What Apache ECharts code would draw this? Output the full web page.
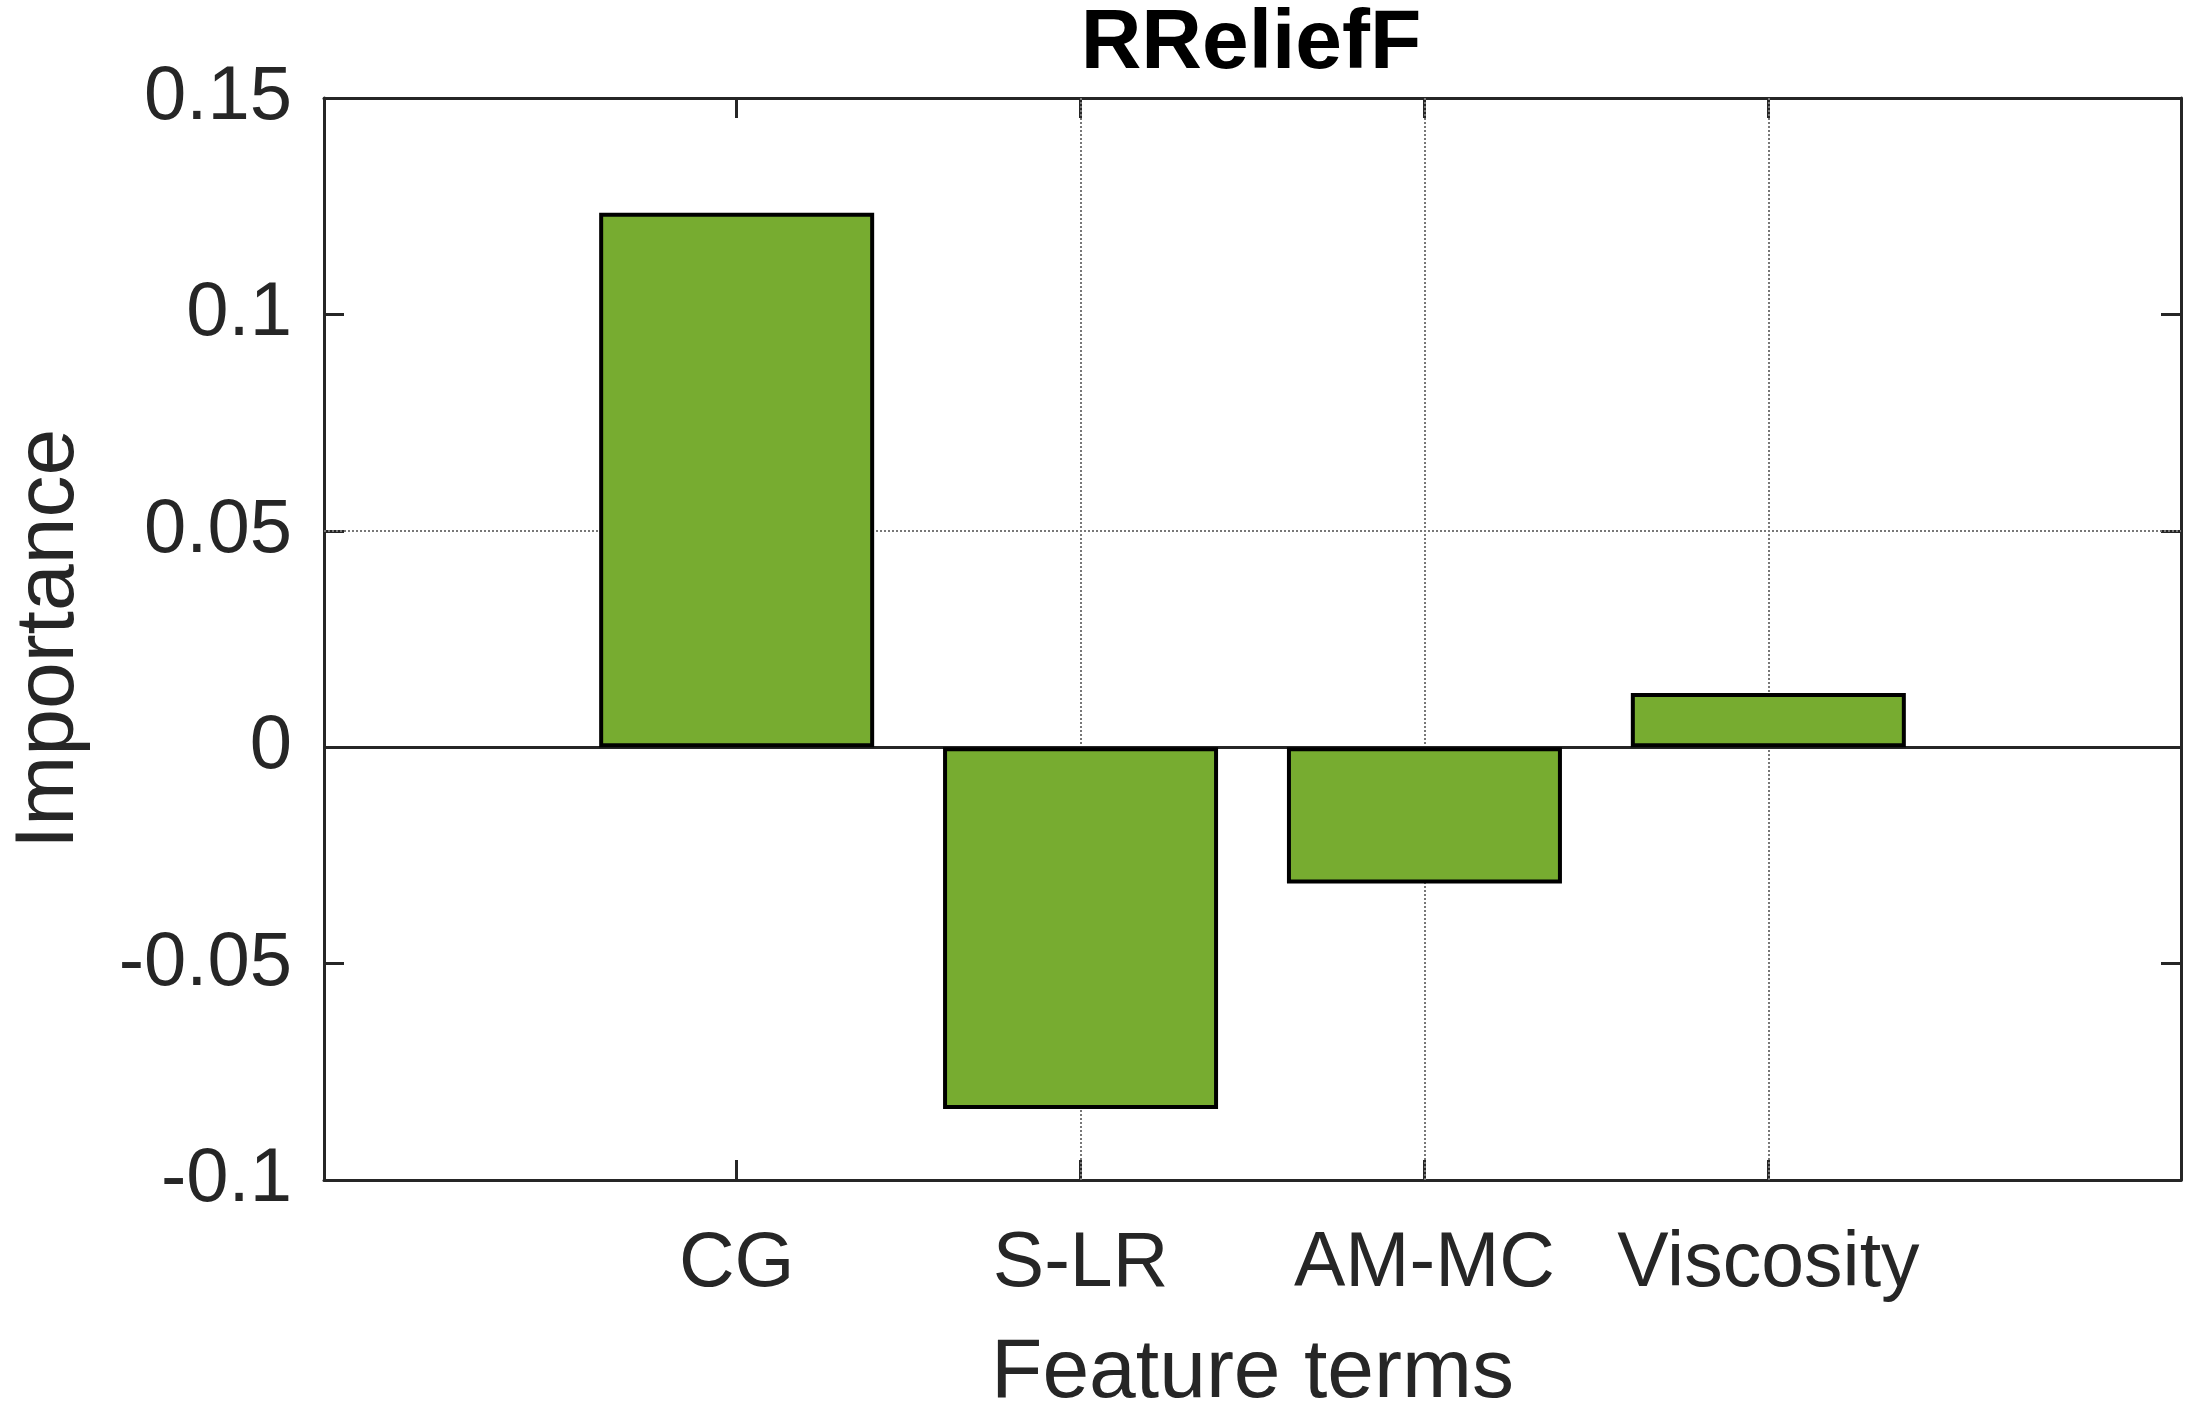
<!DOCTYPE html>
<html>
<head>
<meta charset="utf-8">
<script src="https://cdn.jsdelivr.net/npm/echarts@6/dist/echarts.min.js"></script>
<style>
html,body{margin:0;padding:0;background:#fff;}
#chart{width:2204px;height:1421px;}
</style>
</head>
<body>
<div id="chart"></div>
<script>
// ---- data ----
const categories = ['CG', 'S-LR', 'AM-MC', 'Viscosity'];
const categoryPositions = [1, 2, 3, 4];
const importance = [0.1235, -0.0836, -0.0315, 0.0125];
const yTicks = [-0.1, -0.05, 0, 0.05, 0.1, 0.15];
const gridXPositions = [2, 3, 4];
const gridYValues = [0.05];
const titleText = 'RReliefF';
const xName = 'Feature terms';
const yName = 'Importance';

const FONT = '"Liberation Sans", Arial, Helvetica, sans-serif';
const AX = '#262626';
const barData = categoryPositions.map((p, i) => [p, importance[i]]);

const chart = echarts.init(document.getElementById('chart'), null, {renderer: 'canvas'});

const gridLineStyle = {color: '#777', width: 2, type: [2, 2]};
const markData = gridXPositions.map(x => ({xAxis: x, lineStyle: gridLineStyle}))
  .concat(gridYValues.map(y => ({yAxis: y, lineStyle: gridLineStyle})))
  .concat([{yAxis: 0, lineStyle: {color: AX, width: 3, type: 'solid'}}]);

const xCommon = {
  type: 'value', min: -0.2, max: 5.2,
  splitLine: {show: false},
  axisLine: {show: true, onZero: false, lineStyle: {color: AX, width: 3}},
  axisTick: {show: true, inside: true, length: 20, customValues: categoryPositions, lineStyle: {color: AX, width: 3}}
};
const yCommon = {
  type: 'value', min: -0.1, max: 0.15, interval: 0.05,
  splitLine: {show: false},
  axisLine: {show: true, onZero: false, lineStyle: {color: AX, width: 3}},
  axisTick: {show: true, inside: true, length: 20, lineStyle: {color: AX, width: 3}}
};

chart.setOption({
  animation: false,
  backgroundColor: '#fff',
  title: {
    text: titleText, left: 1251, top: 3, textAlign: 'center', padding: 0,
    textStyle: {fontFamily: FONT, fontWeight: 'bold', fontSize: 84, color: '#000'}
  },
  grid: {left: 321, top: 98, right: 23, bottom: 236, containLabel: false},
  xAxis: [
    Object.assign({}, xCommon, {
      position: 'bottom',
      name: xName, nameLocation: 'middle', nameGap: 152,
      nameTextStyle: {fontFamily: FONT, fontSize: 84, color: AX},
      axisLabel: {
        show: true, customValues: categoryPositions, margin: 46,
        fontFamily: FONT, fontSize: 77, color: AX,
        formatter: v => categories[categoryPositions.indexOf(v)] || ''
      }
    }),
    Object.assign({}, xCommon, {position: 'top', axisLabel: {show: false}})
  ],
  yAxis: [
    Object.assign({}, yCommon, {
      position: 'left',
      name: yName, nameLocation: 'middle', nameGap: 232,
      nameTextStyle: {fontFamily: FONT, fontSize: 84, color: AX},
      axisLabel: {
        show: true, margin: 32, fontFamily: FONT, fontSize: 76, color: AX,
        formatter: v => {
          const m = yTicks.find(t => Math.abs(t - v) < 1e-9);
          return m === undefined ? '' : String(m);
        }
      }
    }),
    Object.assign({}, yCommon, {position: 'right', axisLabel: {show: false}})
  ],
  series: [{
    type: 'bar',
    xAxisIndex: 0, yAxisIndex: 0,
    data: barData,
    barWidth: 275,
    z: 2,
    itemStyle: {color: '#77AC30', borderColor: '#000', borderWidth: 4},
    markLine: {
      silent: true, z: 1, symbol: ['none', 'none'], animation: false,
      label: {show: false},
      data: markData
    }
  }]
});
</script>
</body>
</html>
